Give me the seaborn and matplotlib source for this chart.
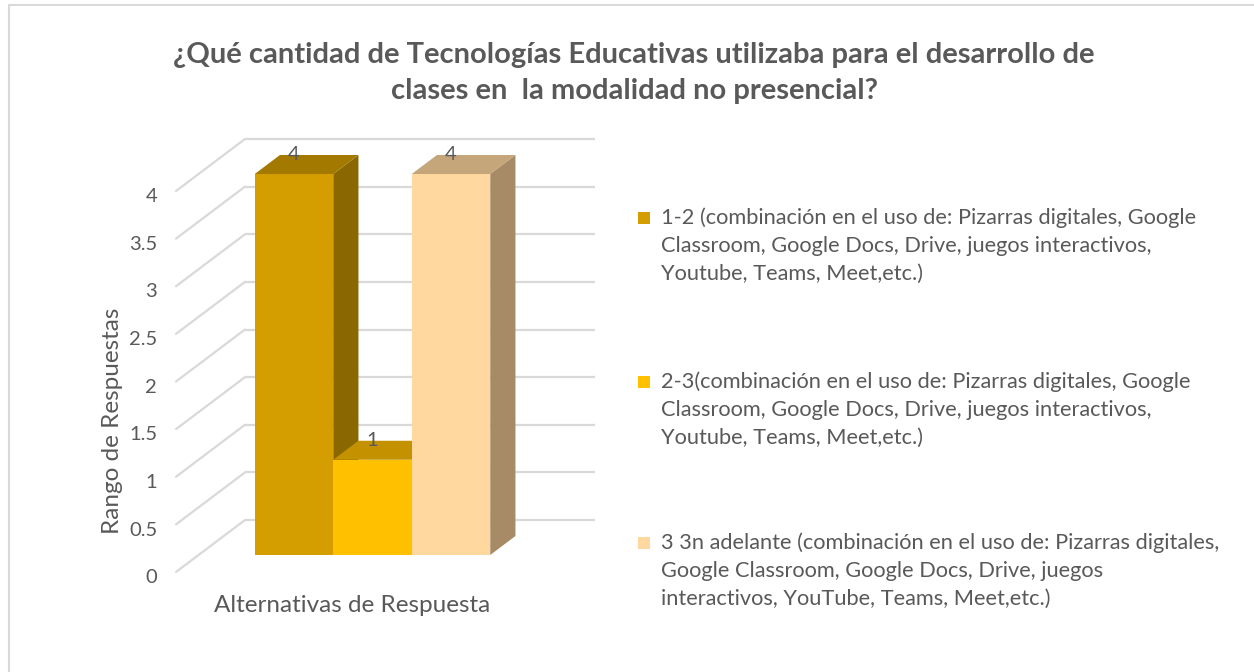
import matplotlib
matplotlib.use("Agg")
import matplotlib.pyplot as plt
import seaborn as sns
import pandas as pd
from matplotlib.patches import Polygon, Rectangle

# datos
categorias = [
    "1-2 (combinación en el uso de: Pizarras digitales, Google\nClassroom, Google Docs, Drive, juegos interactivos,\nYoutube, Teams, Meet,etc.)",
    "2-3(combinación en el uso de: Pizarras digitales, Google\nClassroom, Google Docs, Drive, juegos interactivos,\nYoutube, Teams, Meet,etc.)",
    "3 3n adelante (combinación en el uso de: Pizarras digitales,\nGoogle Classroom, Google Docs, Drive, juegos\ninteractivos, YouTube, Teams, Meet,etc.)",
]
valores = [4, 1, 4]
ticks_y = [0, 0.5, 1, 1.5, 2, 2.5, 3, 3.5, 4]
etiquetas_y = ["0", "0.5", "1", "1.5", "2", "2.5", "3", "3.5", "4"]

titulo = "¿Qué cantidad de Tecnologías Educativas utilizaba para el desarrollo de\nclases en  la modalidad no presencial?"
titulo_x = "Alternativas de Respuesta"
titulo_y = "Rango de Respuestas"

color_frente = ["#D49E00", "#FFC000", "#FFD8A0"]
color_arriba = ["#A37900", "#C49200", "#C4A67A"]
color_lado = ["#8B6700", "#A87D00", "#A68B66"]
gris_texto = "#595959"
gris_linea = "#D9D9D9"

W, H = 1254, 672

# pseudo 3D (unidades de datos)
PX_X = 78.5     # px por categoria
PX_Y = 95.25    # px por unidad
X0_PX, Y0_PX = 372.5, 555   # centro de la barra 2 / base de las barras
FONDO_DX, FONDO_DY = 69 / PX_X, 52 / PX_Y   # profundidad total del piso
FRENTE = 17 / 52      # desde el plano frontal hasta la cara de las barras
BARRA = 19 / 52       # profundidad de las barras
PARED_IZQ, PARED_DER = (245 - X0_PX) / PX_X + 1, (595 - X0_PX) / PX_X + 1


def fig_xy(px, py):
    return px / W, 1 - py / H


sns.set_theme(style="white")
plt.rcParams["font.family"] = ["Lato", "DejaVu Sans"]

fig = plt.figure(figsize=(W / 100, H / 100), dpi=100)
ax = fig.add_axes([0, 0, 1, 1])

df = pd.DataFrame({"alternativa": categorias, "respuestas": valores})
sns.barplot(data=df, x="alternativa", y="respuestas", hue="alternativa",
            palette=color_frente, width=1, dodge=False, saturation=1,
            legend=False, ax=ax, linewidth=0)

ax.set_xlim(1 - X0_PX / PX_X, 1 + (W - X0_PX) / PX_X)
ax.set_ylim(-(H - Y0_PX) / PX_Y, Y0_PX / PX_Y)
ax.axis("off")

# pared de fondo y piso (lineas de cuadricula)
dx_atras = FONDO_DX * (1 - FRENTE)
dy_atras = FONDO_DY * (1 - FRENTE)
dx_frente = FONDO_DX * FRENTE
dy_frente = FONDO_DY * FRENTE
x_frente = PARED_IZQ - FONDO_DX
for v, lab in zip(ticks_y, etiquetas_y):
    ax.plot([PARED_IZQ, PARED_DER], [v + dy_atras, v + dy_atras],
            color=gris_linea, lw=1.6, zorder=1, solid_capstyle="butt")
    ax.plot([x_frente, PARED_IZQ], [v - dy_frente, v + dy_atras],
            color=gris_linea, lw=1.6, zorder=1)
    ax.text(x_frente - 0.24, v - dy_frente - 0.06, lab, ha="right", va="center",
            fontsize=14.5, color=gris_texto)

# caras laterales y superiores
bdx, bdy = FONDO_DX * BARRA, FONDO_DY * BARRA
barras = sorted(ax.patches, key=lambda p: p.get_x())
for i, p in enumerate(barras):
    x0, w, h = p.get_x(), p.get_width(), p.get_height()
    lado = Polygon([(x0 + w, 0), (x0 + w + bdx, bdy), (x0 + w + bdx, h + bdy), (x0 + w, h)],
                   closed=True, facecolor=color_lado[i], edgecolor="none", zorder=3 + 2 * i)
    arriba = Polygon([(x0, h), (x0 + bdx, h + bdy), (x0 + w + bdx, h + bdy), (x0 + w, h)],
                     closed=True, facecolor=color_arriba[i], edgecolor="none", zorder=3 + 2 * i)
    ax.add_patch(lado)
    ax.add_patch(arriba)
    p.set_zorder(4 + 2 * i)
    ax.text(x0 + w / 2, h + bdy, f"{valores[i]:g}", ha="center", va="center",
            fontsize=14.5, color=gris_texto, zorder=20)

# titulos
fig.text(*fig_xy(634, 73), titulo, ha="center", va="center", fontsize=21,
         fontweight="bold", color=gris_texto, linespacing=1.5)
fig.text(*fig_xy(352, 606), titulo_x, ha="center", va="center", fontsize=17.5, color=gris_texto)
fig.text(*fig_xy(113, 421), titulo_y, ha="center", va="center", rotation=90,
         fontsize=17.5, color=gris_texto)

# leyenda
y_entrada = [218, 382, 543]
for i, etiqueta in enumerate(categorias):
    fx, fy = fig_xy(638, y_entrada[i] + 6)
    fig.patches.append(Rectangle((fx, fy), 12 / W, 12 / H, transform=fig.transFigure,
                                 facecolor=color_frente[i], edgecolor="none"))
    for j, linea in enumerate(etiqueta.split("\n")):
        fig.text(*fig_xy(661, y_entrada[i] + 28 * j), linea, ha="left", va="center",
                 fontsize=15.7, color=gris_texto)

# marco exterior
fig.patches.append(Rectangle((9 / W, -0.1), 1.2, 1.1 - 5 / H, transform=fig.transFigure,
                             facecolor="none", edgecolor=gris_linea, lw=1.5))

fig.savefig("out.png", dpi=100)
